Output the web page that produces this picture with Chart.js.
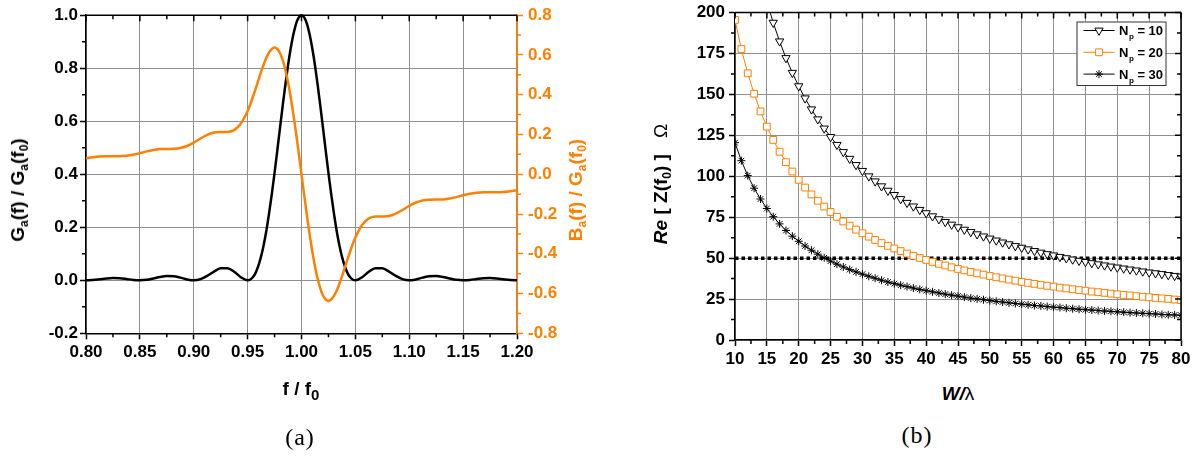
<!DOCTYPE html>
<html>
<head>
<meta charset="utf-8">
<script src="https://cdn.jsdelivr.net/npm/chart.js@4.4.1/dist/chart.umd.min.js"></script>
<style>
  body { margin: 0; background: #fff; }
  #page { position: relative; width: 1203px; height: 459px; overflow: hidden; font-family: 'Liberation Sans', Arial, sans-serif; }
  #page canvas { position: absolute; top: 0; }
  .title { position: absolute; white-space: nowrap; font-weight: bold; font-size: 19px; line-height: 22px; transform: translate(-50%, -50%); }
  .vert { transform: translate(-50%, -50%) rotate(-90deg); }
  .sub { font-size: 12px; position: relative; top: 4px; }
  .sub-big { font-size: 15px; position: relative; top: 5px; }
  .plain { font-weight: normal; }
  .caption { position: absolute; font-family: 'Liberation Serif', serif; font-size: 24px; letter-spacing: 1px; transform: translate(-50%, -50%); }
</style>
</head>
<body>
<div id="page">
  <canvas id="chart-a" width="600" height="380" style="left:0"></canvas>
  <canvas id="chart-b" width="603" height="380" style="left:600px"></canvas>

  <div class="title vert" style="left:19px;top:190px">G<span class="sub">a</span>(f) / G<span class="sub">a</span>(f<span class="sub">0</span>)</div>
  <div class="title vert" style="left:577px;top:190px;color:#ff8000">B<span class="sub">a</span>(f) / G<span class="sub">a</span>(f<span class="sub">0</span>)</div>
  <div class="title" style="left:301px;top:389px">f / f<span class="sub-big">0</span></div>
  <div class="caption" style="left:300px;top:437px">(a)</div>

  <div class="title vert" style="left:662px;top:184px"><i>Re</i> [ Z(f<span class="sub">0</span>) ]<span class="plain" style="margin-left:16px">Ω</span></div>
  <div class="title" style="left:958px;top:394px"><i>W/</i><span class="plain">λ</span></div>
  <div class="caption" style="left:917px;top:435px">(b)</div>
</div>

<script>
// (a) normalised radiation conductance and susceptance around the centre frequency
const freq = [
  0.80, 0.80625, 0.8125, 0.81875, 0.825, 0.83125, 0.8375, 0.84375,
  0.85, 0.85625, 0.8625, 0.86875, 0.875, 0.88125, 0.8875, 0.89375,
  0.90, 0.90625, 0.9125, 0.91875, 0.925, 0.93125, 0.9375, 0.94375,
  0.95, 0.9525, 0.955, 0.9575, 0.96, 0.9625, 0.965, 0.9675, 0.97, 0.9725,
  0.975, 0.9775, 0.98, 0.9825, 0.985, 0.9875, 0.99, 0.9925, 0.995, 0.9975,
  1.00,
  1.0025, 1.005, 1.0075, 1.01, 1.0125, 1.015, 1.0175, 1.02, 1.0225, 1.025,
  1.0275, 1.03, 1.0325, 1.035, 1.0375, 1.04, 1.0425, 1.045, 1.0475, 1.05,
  1.05625, 1.0625, 1.06875, 1.075, 1.08125, 1.0875, 1.09375, 1.10,
  1.10625, 1.1125, 1.11875, 1.125, 1.13125, 1.1375, 1.14375, 1.15,
  1.15625, 1.1625, 1.16875, 1.175, 1.18125, 1.1875, 1.19375, 1.20
];
const gainRatio = [
  0, 0.001, 0.0036, 0.0066, 0.0083, 0.0076, 0.0048, 0.0015,
  0, 0.0018, 0.0067, 0.0126, 0.0162, 0.0153, 0.0100, 0.0033,
  0, 0.0042, 0.0165, 0.0328, 0.0450, 0.0457, 0.0324, 0.0117,
  0, 0.003, 0.012, 0.029, 0.055, 0.090, 0.135, 0.190, 0.255, 0.327,
  0.405, 0.488, 0.573, 0.657, 0.737, 0.811, 0.875, 0.928, 0.968, 0.992,
  1.000,
  0.992, 0.968, 0.928, 0.875, 0.811, 0.737, 0.657, 0.573, 0.488, 0.405,
  0.327, 0.255, 0.190, 0.135, 0.090, 0.055, 0.029, 0.012, 0.003, 0,
  0.0117, 0.0324, 0.0457, 0.0450, 0.0328, 0.0165, 0.0042, 0,
  0.0033, 0.0100, 0.0153, 0.0162, 0.0126, 0.0067, 0.0018, 0,
  0.0015, 0.0048, 0.0076, 0.0083, 0.0066, 0.0036, 0.001, 0
];
const susceptance = [
  0.080, 0.085, 0.089, 0.091, 0.091, 0.091, 0.093, 0.098,
  0.106, 0.115, 0.122, 0.127, 0.127, 0.128, 0.132, 0.142,
  0.159, 0.180, 0.198, 0.210, 0.212, 0.213, 0.222, 0.255,
  0.318, 0.352, 0.391, 0.431, 0.473, 0.515, 0.553, 0.587, 0.613, 0.630,
  0.637, 0.630, 0.610, 0.575, 0.526, 0.463, 0.387, 0.301, 0.205, 0.104,
  0,
  -0.104, -0.205, -0.301, -0.387, -0.463, -0.526, -0.575, -0.610, -0.630, -0.637,
  -0.630, -0.613, -0.587, -0.553, -0.515, -0.473, -0.431, -0.391, -0.352, -0.318,
  -0.255, -0.222, -0.213, -0.212, -0.210, -0.198, -0.180, -0.159,
  -0.142, -0.132, -0.128, -0.127, -0.127, -0.122, -0.115, -0.106,
  -0.098, -0.093, -0.091, -0.091, -0.091, -0.089, -0.085, -0.080
];
const freqTicks = ['0.80', '0.85', '0.90', '0.95', '1.00', '1.05', '1.10', '1.15', '1.20'];
const gainTicks = ['-0.2', '0.0', '0.2', '0.4', '0.6', '0.8', '1.0'];
const suscTicks = ['-0.8', '-0.6', '-0.4', '-0.2', '0.0', '0.2', '0.4', '0.6', '0.8'];

// (b) real part of the impedance at f0 against aperture width, for three pair counts
const widths = [
  10, 11, 12, 13, 14, 15, 16, 17, 18, 19, 20, 21, 22, 23, 24, 25, 26, 27, 28, 29,
  30, 31, 32, 33, 34, 35, 36, 37, 38, 39, 40, 41, 42, 43, 44, 45, 46, 47, 48, 49,
  50, 51, 52, 53, 54, 55, 56, 57, 58, 59, 60, 61, 62, 63, 64, 65, 66, 67, 68, 69,
  70, 71, 72, 73, 74, 75, 76, 77, 78, 79, 80
];
const resNp10 = [
  null, null, null, null, null, 206.7, 193.8, 182.4, 172.2, 163.2,
  155.0, 147.6, 140.9, 134.8, 129.2, 124.0, 119.2, 114.8, 110.7, 106.9,
  103.3, 100.0, 96.9, 93.9, 91.2, 88.6, 86.1, 83.8, 81.6, 79.5,
  77.5, 75.6, 73.8, 72.1, 70.5, 68.9, 67.4, 66.0, 64.6, 63.3,
  62.0, 60.8, 59.6, 58.5, 57.4, 56.4, 55.4, 54.4, 53.4, 52.5,
  51.7, 50.8, 50.0, 49.2, 48.4, 47.7, 47.0, 46.3, 45.6, 44.9,
  44.3, 43.7, 43.1, 42.5, 41.9, 41.3, 40.8, 40.3, 39.7, 39.2, 38.8
];
const resNp20 = [
  195.5, 177.7, 162.9, 150.4, 139.6, 130.3, 122.2, 115.0, 108.6, 102.9,
  97.8, 93.1, 88.9, 85.0, 81.5, 78.2, 75.2, 72.4, 69.8, 67.4,
  65.2, 63.1, 61.1, 59.2, 57.5, 55.9, 54.3, 52.8, 51.4, 50.1,
  48.9, 47.7, 46.5, 45.5, 44.4, 43.4, 42.5, 41.6, 40.7, 39.9,
  39.1, 38.3, 37.6, 36.9, 36.2, 35.5, 34.9, 34.3, 33.7, 33.1,
  32.6, 32.0, 31.5, 31.0, 30.5, 30.1, 29.6, 29.2, 28.8, 28.3,
  27.9, 27.5, 27.2, 26.8, 26.4, 26.1, 25.7, 25.4, 25.1, 24.7, 24.4
];
const resNp30 = [
  120.5, 109.5, 100.4, 92.7, 86.1, 80.3, 75.3, 70.9, 66.9, 63.4,
  60.3, 57.4, 54.8, 52.4, 50.2, 48.2, 46.3, 44.6, 43.0, 41.6,
  40.2, 38.9, 37.7, 36.5, 35.4, 34.4, 33.5, 32.6, 31.7, 30.9,
  30.1, 29.4, 28.7, 28.0, 27.4, 26.8, 26.2, 25.6, 25.1, 24.6,
  24.1, 23.6, 23.2, 22.7, 22.3, 21.9, 21.5, 21.1, 20.8, 20.4,
  20.1, 19.8, 19.4, 19.1, 18.8, 18.5, 18.3, 18.0, 17.7, 17.5,
  17.2, 17.0, 16.7, 16.5, 16.3, 16.1, 15.9, 15.6, 15.4, 15.3, 15.1
];
const pairCounts = [10, 20, 30];
const matchWidths = [10, 80];
const matchLevel = [50, 50];
const widthTicks = ['10', '15', '20', '25', '30', '35', '40', '45', '50', '55', '60', '65', '70', '75', '80'];
const resTicks = ['0', '25', '50', '75', '100', '125', '150', '175', '200'];

const orange = '#ff8000';
const gridGray = '#8f8f8f';
const tickFont = { family: "'Liberation Sans', Arial, sans-serif", size: 17, weight: 'bold', lineHeight: 1.2 };

function pointsOf(xs, ys) {
  return xs.map((x, i) => ({ x, y: ys[i] }));
}

function fixedTicks(labels) {
  return (scale) => { scale.ticks = labels.map((t) => ({ value: parseFloat(t) })); };
}

// minor ticks, mirrored ticks and the closing frame lines
const frameTicks = {
  id: 'frameTicks',
  afterDraw(chart, args, opts) {
    const { ctx, chartArea: area } = chart;
    ctx.save();
    ctx.lineWidth = 1.5;
    ctx.strokeStyle = '#000';
    (opts.borders || []).forEach((side) => {
      ctx.beginPath();
      if (side === 'top') {
        ctx.moveTo(area.left, area.top);
        ctx.lineTo(area.right, area.top);
      } else {
        ctx.moveTo(area.right, area.top);
        ctx.lineTo(area.right, area.bottom);
      }
      ctx.stroke();
    });
    (opts.marks || []).forEach((m) => {
      const scale = chart.scales[m.scale];
      const majors = scale.ticks.map((t) => t.value);
      const minors = majors.slice(1).map((v, i) => (majors[i] + v) / 2);
      ctx.strokeStyle = m.color || '#000';
      ctx.beginPath();
      const add = (v, len) => {
        const p = scale.getPixelForValue(v);
        if (m.edge === 'bottom') { ctx.moveTo(p, area.bottom); ctx.lineTo(p, area.bottom + len); }
        else if (m.edge === 'top') { ctx.moveTo(p, area.top); ctx.lineTo(p, area.top + len); }
        else if (m.edge === 'left') { ctx.moveTo(area.left, p); ctx.lineTo(area.left - len, p); }
        else { ctx.moveTo(area.right, p); ctx.lineTo(area.right + len, p); }
      };
      if (m.major) majors.forEach((v) => add(v, m.major));
      minors.forEach((v) => add(v, m.minor));
      ctx.stroke();
    });
    ctx.restore();
  }
};

// boxed legend with line + marker samples and N_p labels
const seriesLegend = {
  id: 'seriesLegend',
  afterDraw(chart, args, opts) {
    if (!opts.box) return;
    const { ctx } = chart;
    const { x, y, w, h } = opts.box;
    ctx.save();
    ctx.fillStyle = '#fff';
    ctx.fillRect(x, y, w, h);
    ctx.strokeStyle = '#333';
    ctx.lineWidth = 1;
    ctx.strokeRect(x + 0.5, y + 0.5, w, h);
    const entries = chart.data.datasets.filter((ds) => ds.pairCount !== undefined);
    entries.forEach((ds, i) => {
      const cy = y + 9 + i * 21.8;
      ctx.strokeStyle = ds.borderColor;
      ctx.lineWidth = 1;
      ctx.beginPath();
      ctx.moveTo(x + 7, cy);
      ctx.lineTo(x + 38, cy);
      ctx.stroke();
      ctx.fillStyle = ds.pointBackgroundColor;
      ctx.strokeStyle = ds.pointBorderColor;
      Chart.helpers.drawPoint(ctx, {
        pointStyle: ds.pointStyle,
        rotation: ds.pointRotation || 0,
        radius: ds.pointRadius,
        borderWidth: 1
      }, x + 22.5, cy);
      ctx.fillStyle = '#000';
      ctx.textBaseline = 'alphabetic';
      ctx.font = "bold 13px 'Liberation Sans', Arial, sans-serif";
      let tx = x + 42.5;
      ctx.fillText('N', tx, cy + 4.5);
      tx += ctx.measureText('N').width;
      ctx.font = "bold 8px 'Liberation Sans', Arial, sans-serif";
      ctx.fillText('p', tx + 0.5, cy + 8.5);
      tx += ctx.measureText('p').width + 0.5;
      ctx.font = "bold 13px 'Liberation Sans', Arial, sans-serif";
      ctx.fillText(' = ' + ds.pairCount, tx, cy + 4.5);
    });
    ctx.restore();
  }
};

new Chart(document.getElementById('chart-a'), {
  type: 'line',
  data: {
    datasets: [
      {
        label: 'Ga(f) / Ga(f0)',
        data: pointsOf(freq, gainRatio),
        borderColor: '#000',
        borderWidth: 2.5,
        pointRadius: 0,
        cubicInterpolationMode: 'monotone',
        yAxisID: 'y',
        clip: 4,
        order: 2
      },
      {
        label: 'Ba(f) / Ga(f0)',
        data: pointsOf(freq, susceptance),
        borderColor: orange,
        borderWidth: 2.5,
        pointRadius: 0,
        cubicInterpolationMode: 'monotone',
        yAxisID: 'y2',
        clip: 4,
        order: 1
      }
    ]
  },
  options: {
    responsive: false,
    animation: false,
    events: [],
    layout: { padding: { top: 14.7, left: 0, right: 0, bottom: 0 } },
    plugins: {
      legend: { display: false },
      tooltip: { enabled: false },
      frameTicks: {
        borders: ['top'],
        marks: [
          { scale: 'x', edge: 'bottom', minor: 4 },
          { scale: 'x', edge: 'top', major: 6, minor: 4 },
          { scale: 'y', edge: 'left', minor: 4 },
          { scale: 'y2', edge: 'right', minor: 4, color: orange }
        ]
      }
    },
    scales: {
      x: {
        type: 'linear',
        min: 0.8,
        max: 1.2,
        afterBuildTicks: fixedTicks(freqTicks),
        afterFit: (s) => { s.height = 46.7; },
        ticks: { callback: (v, i) => freqTicks[i], font: tickFont, color: '#000', padding: 3, maxRotation: 0, autoSkip: false },
        grid: { color: gridGray, lineWidth: 1, tickLength: 6, tickColor: '#000', tickWidth: 1.5 },
        border: { color: '#000', width: 1.5 }
      },
      y: {
        position: 'left',
        min: -0.2,
        max: 1.0,
        afterBuildTicks: fixedTicks(gainTicks),
        afterFit: (s) => { s.width = 86; },
        ticks: { callback: (v, i) => gainTicks[i], font: tickFont, color: '#000', padding: 2 },
        grid: { color: gridGray, lineWidth: 1, tickLength: 6, tickColor: '#000', tickWidth: 1.5 },
        border: { color: '#000', width: 1.5 }
      },
      y2: {
        position: 'right',
        min: -0.8,
        max: 0.8,
        afterBuildTicks: fixedTicks(suscTicks),
        afterFit: (s) => { s.width = 83; },
        ticks: { callback: (v, i) => suscTicks[i], font: tickFont, color: orange, padding: 5 },
        grid: { drawOnChartArea: false, tickLength: 6, tickColor: orange, tickWidth: 1.5 },
        border: { color: orange, width: 1.5 }
      }
    }
  },
  plugins: [frameTicks]
});

new Chart(document.getElementById('chart-b'), {
  type: 'line',
  data: {
    datasets: [
      {
        label: 'Np = 10',
        pairCount: pairCounts[0],
        data: pointsOf(widths, resNp10),
        borderColor: '#000',
        borderWidth: 1,
        pointStyle: 'triangle',
        pointRotation: 180,
        pointRadius: 4.8,
        pointBorderWidth: 1,
        pointBorderColor: '#000',
        pointBackgroundColor: '#fff'
      },
      {
        label: 'Np = 20',
        pairCount: pairCounts[1],
        data: pointsOf(widths, resNp20),
        borderColor: orange,
        borderWidth: 1,
        pointStyle: 'rect',
        pointRadius: 4.8,
        pointBorderWidth: 1,
        pointBorderColor: orange,
        pointBackgroundColor: '#fff'
      },
      {
        label: 'Np = 30',
        pairCount: pairCounts[2],
        data: pointsOf(widths, resNp30),
        borderColor: '#000',
        borderWidth: 1,
        pointStyle: 'star',
        pointRadius: 4,
        pointBorderWidth: 1,
        pointBorderColor: '#000',
        pointBackgroundColor: '#000'
      },
      {
        label: '50 Ω',
        data: pointsOf(matchWidths, matchLevel),
        borderColor: '#000',
        borderWidth: 3.5,
        borderDash: [3.5, 3],
        pointRadius: 0
      }
    ]
  },
  options: {
    responsive: false,
    animation: false,
    events: [],
    layout: { padding: { top: 10, left: 0, right: 22, bottom: 0 } },
    plugins: {
      legend: { display: false },
      tooltip: { enabled: false },
      frameTicks: {
        borders: ['top', 'right'],
        marks: [
          { scale: 'x', edge: 'bottom', minor: 4 },
          { scale: 'x', edge: 'top', major: 6, minor: 4 },
          { scale: 'y', edge: 'left', minor: 4 },
          { scale: 'y', edge: 'right', major: -6, minor: -4 }
        ]
      },
      seriesLegend: { box: { x: 476.5, y: 21.5, w: 89, h: 63.5 } }
    },
    scales: {
      x: {
        type: 'linear',
        min: 10,
        max: 80,
        afterBuildTicks: fixedTicks(widthTicks),
        afterFit: (s) => { s.height = 40; },
        ticks: { callback: (v, i) => widthTicks[i], font: tickFont, color: '#000', padding: 3, maxRotation: 0, autoSkip: false },
        grid: { color: gridGray, lineWidth: 1, tickLength: 6, tickColor: '#000', tickWidth: 1.5 },
        border: { color: '#000', width: 1.5 }
      },
      y: {
        min: 0,
        max: 200,
        afterBuildTicks: fixedTicks(resTicks),
        afterFit: (s) => { s.width = 135; },
        ticks: { callback: (v, i) => resTicks[i], font: { ...tickFont, lineHeight: 1 }, color: '#000', padding: 4 },
        grid: { color: gridGray, lineWidth: 1, tickLength: 6, tickColor: '#000', tickWidth: 1.5 },
        border: { color: '#000', width: 1.5 }
      }
    }
  },
  plugins: [frameTicks, seriesLegend]
});
</script>
</body>
</html>
